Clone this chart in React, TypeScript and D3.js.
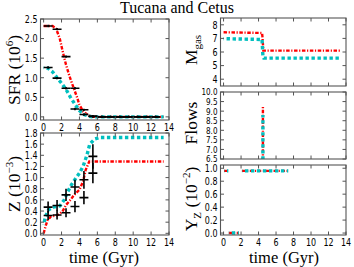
import * as d3 from 'd3';

// model curves (time in Gyr)
const sfrTimeRed = [0, 1.0, 1.4, 1.8, 2.1, 2.5, 2.9, 3.3, 3.7, 4.0, 4.4, 5.0, 5.5, 13.4];
const sfrRed = [2.32, 2.32, 2.25, 2.0, 1.7, 1.33, 1.03, 0.77, 0.52, 0.31, 0.14, 0.04, 0, 0];
const sfrTimeCyan = [0, 0.5, 1.0, 1.5, 2.0, 2.5, 3.0, 3.5, 4.0, 4.5, 5.0, 5.5, 13.4];
const sfrCyan = [1.26, 1.24, 1.15, 1.0, 0.86, 0.7, 0.5, 0.32, 0.16, 0.06, 0.02, 0, 0];

const sfrBins = [0.5, 1.5, 2.5, 3.5, 4.5, 5.5, 6.5, 7.5, 8.5, 9.5, 10.5, 11.5, 12.5];
const sfrObsA = [2.32, 2.24, 1.54, 0.73, 0.18, 0.02, 0, 0, 0, 0, 0, 0, 0];
const sfrObsB = [1.26, 0.99, 0.73, 0.2, 0.06, 0.01, 0, 0, 0, 0, 0, 0, 0];

const zTimeRed = [0, 0.2, 0.45, 0.8, 1.6, 2.1, 2.5, 3.0, 3.4, 4.0, 4.4, 4.7, 5.1, 5.5, 13.4];
const zRed = [0, 0.12, 0.24, 0.3, 0.33, 0.39, 0.51, 0.6, 0.69, 0.78, 0.93, 1.14, 1.29, 1.29, 1.29];
const zTimeCyan = [0, 0.2, 0.55, 1.0, 1.8, 2.3, 2.7, 3.1, 3.6, 4.0, 4.4, 4.85, 5.15, 5.7, 6.3, 13.4];
const zCyan = [0.15, 0.3, 0.42, 0.47, 0.49, 0.6, 0.75, 0.87, 0.99, 1.08, 1.2, 1.41, 1.6, 1.69, 1.72, 1.72];

const zBins = [0.5, 1.5, 2.5, 3.5, 4.5, 5.5];
const zObsHigh = [0.47, 0.5, 0.69, 0.83, 0.96, 1.38];
const zErrHigh = [0.1, 0.1, 0.11, 0.13, 0.16, 0.22];
const zObsLow = [0.32, 0.33, 0.37, 0.48, 0.64, 1.08];
const zErrLow = [0.08, 0.08, 0.08, 0.1, 0.12, 0.18];

const gasTimeRed = [0, 4.4, 4.45, 4.5, 4.55, 13.4];
const gasRed = [7.45, 7.4, 7.1, 6.6, 6.1, 6.1];
const gasTimeCyan = [0, 4.4, 4.45, 4.5, 4.6, 13.4];
const gasCyan = [6.98, 6.92, 6.3, 5.7, 5.55, 5.55];

const flowTime = [4.5, 4.5];
const flowRed = [6.0, 9.3];
const flowCyan = [6.0, 8.8];

const yzTime = [0.05, 0.55, NaN, 0.6, 1.75, NaN, 2.1, 7.4];
const yzRed = [0.96, 0.96, NaN, 0, 0, NaN, 0.96, 0.96];
const yzCyan = [0.96, 0.96, NaN, 0, 0, NaN, 0.96, 0.96];

const timeTicks = [0, 2, 4, 6, 8, 10, 12, 14];
const sfrTicks = [0, 0.5, 1.0, 1.5, 2.0, 2.5];
const zTicks = [0, 0.2, 0.4, 0.6, 0.8, 1.0, 1.2, 1.4, 1.6, 1.8];
const gasTicks = [4, 5, 6, 7, 8];
const flowTicks = [6.5, 7.0, 7.5, 8.0, 8.5, 9.0, 9.5, 10.0];
const yzTicks = [0, 0.2, 0.4, 0.6, 0.8, 1.0];

const RED = '#ff0000';
const CYAN = '#00bfbf';
const FRAME = '#555';
const SERIF = '"Liberation Serif", "DejaVu Serif", serif';
const SANS = '"DejaVu Sans", sans-serif';

type Scales = { x: d3.ScaleLinear<number, number>; y: d3.ScaleLinear<number, number> };

function path(s: Scales, xs: number[], ys: number[]) {
  const line = d3.line<number>()
    .defined(i => !isNaN(xs[i]) && !isNaN(ys[i]))
    .x(i => s.x(xs[i]))
    .y(i => s.y(ys[i]));
  return line(d3.range(xs.length)) || '';
}

function RedLine({ s, xs, ys }: { s: Scales; xs: number[]; ys: number[] }) {
  return <path d={path(s, xs, ys)} fill="none" stroke={RED} strokeWidth={2.4} strokeDasharray="3.5 1.6 1.2 1.6" />;
}
function CyanLine({ s, xs, ys }: { s: Scales; xs: number[]; ys: number[] }) {
  return <path d={path(s, xs, ys)} fill="none" stroke={CYAN} strokeWidth={3.4} strokeDasharray="3.4 2.6" strokeDashoffset={3} />;
}

function ErrBars({ s, xs, ys, yerr }: { s: Scales; xs: number[]; ys: number[]; yerr: number[] | number }) {
  return (
    <g stroke="#000" strokeWidth={1.6}>
      {xs.map((xv, i) => {
        const e = typeof yerr === 'number' ? yerr : yerr[i];
        return (
          <g key={i}>
            <line x1={s.x(xv - 0.5)} x2={s.x(xv + 0.5)} y1={s.y(ys[i])} y2={s.y(ys[i])} />
            <line x1={s.x(xv)} x2={s.x(xv)} y1={s.y(ys[i] - e)} y2={s.y(ys[i] + e)} />
          </g>
        );
      })}
    </g>
  );
}

type PanelProps = {
  id: string;
  left: number; right: number; top: number; bottom: number;
  yDomain: [number, number];
  yTicks: number[];
  yFmt: (v: number) => string;
  showX: boolean;
  tickFont?: number;
  draw: (s: Scales) => any;
};

function Panel({ id, left, right, top, bottom, yDomain, yTicks, yFmt, showX, tickFont = 10.5, draw }: PanelProps) {
  const x = d3.scaleLinear().domain([-0.35, 14]).range([left, right]);
  const y = d3.scaleLinear().domain(yDomain).range([bottom, top]);
  const s = { x, y };
  const tl = 3.5;
  return (
    <g>
      <clipPath id={id}><rect x={left} y={top} width={right - left} height={bottom - top} /></clipPath>
      <g clipPath={`url(#${id})`}>{draw(s)}</g>
      <g stroke={FRAME} strokeWidth={1}>
        {timeTicks.map(t => (
          <g key={t}>
            <line x1={x(t)} x2={x(t)} y1={bottom} y2={bottom - tl} />
            <line x1={x(t)} x2={x(t)} y1={top} y2={top + tl} />
          </g>
        ))}
        {yTicks.map(t => (
          <g key={t}>
            <line x1={left} x2={left + tl} y1={y(t)} y2={y(t)} />
            <line x1={right} x2={right - tl} y1={y(t)} y2={y(t)} />
          </g>
        ))}
      </g>
      <rect x={left} y={top} width={right - left} height={bottom - top} fill="none" stroke={FRAME} strokeWidth={1.1} />
      <g fontFamily={SANS} fontSize={tickFont} fill="#000">
        {yTicks.map(t => (
          <text key={t} transform={`translate(${left - 3},${y(t) + tickFont * 0.36}) scale(0.76,1)`} textAnchor="end">{yFmt(t)}</text>
        ))}
        {showX && timeTicks.map(t => (
          <text key={t} transform={`translate(${x(t)},${bottom + 10.5}) scale(0.76,1)`} textAnchor="middle">{t}</text>
        ))}
      </g>
    </g>
  );
}

const f1 = (v: number) => d3.format('.1f')(v);
const f0 = (v: number) => d3.format('d')(v);

export default function App() {
  const L = [40.5, 169];
  const R = [220.5, 346];
  return (
    <svg width={354} height={267} style={{ position: 'absolute', left: 0, top: 0, background: '#fff' }}>
      <text x={177} y={13} textAnchor="middle" fontFamily={SERIF} fontSize={16}>Tucana and Cetus</text>

      <Panel id="c1" left={L[0]} right={L[1]} top={19} bottom={120} yDomain={[-0.08, 2.5]} yTicks={sfrTicks} yFmt={f1} showX
        draw={s => (
          <g>
            <RedLine s={s} xs={sfrTimeRed} ys={sfrRed} />
            <CyanLine s={s} xs={sfrTimeCyan} ys={sfrCyan} />
            <ErrBars s={s} xs={sfrBins} ys={sfrObsA} yerr={0.03} />
            <ErrBars s={s} xs={sfrBins} ys={sfrObsB} yerr={0.03} />
          </g>
        )} />

      <Panel id="c2" left={L[0]} right={L[1]} top={133} bottom={235} yDomain={[-0.03, 1.8]} yTicks={zTicks} yFmt={f1} showX
        draw={s => (
          <g>
            <RedLine s={s} xs={zTimeRed} ys={zRed} />
            <CyanLine s={s} xs={zTimeCyan} ys={zCyan} />
            <ErrBars s={s} xs={zBins} ys={zObsHigh} yerr={zErrHigh} />
            <ErrBars s={s} xs={zBins} ys={zObsLow} yerr={zErrLow} />
          </g>
        )} />

      <Panel id="c3" left={R[0]} right={R[1]} top={18} bottom={86} yDomain={[3.5, 8.5]} yTicks={gasTicks} yFmt={f0} showX={false}
        draw={s => (
          <g>
            <RedLine s={s} xs={gasTimeRed} ys={gasRed} />
            <CyanLine s={s} xs={gasTimeCyan} ys={gasCyan} />
          </g>
        )} />

      <Panel id="c4" left={R[0]} right={R[1]} top={92} bottom={159} yDomain={[6.5, 10]} yTicks={flowTicks} yFmt={f1} showX={false} tickFont={9.5}
        draw={s => (
          <g>
            <RedLine s={s} xs={flowTime} ys={flowRed} />
            <CyanLine s={s} xs={flowTime} ys={flowCyan} />
          </g>
        )} />

      <Panel id="c5" left={R[0]} right={R[1]} top={165} bottom={235} yDomain={[-0.03, 1.05]} yTicks={yzTicks} yFmt={f1} showX
        draw={s => (
          <g>
            <RedLine s={s} xs={yzTime} ys={yzRed} />
            <CyanLine s={s} xs={yzTime} ys={yzCyan} />
          </g>
        )} />

      <g fontFamily={SERIF} fontSize={17.5}>
        <text transform="translate(20,70) rotate(-90)" textAnchor="middle">SFR (10<tspan fontSize={11} dy={-7}>6</tspan><tspan dy={7}>)</tspan></text>
        <text transform="translate(20,184) rotate(-90)" textAnchor="middle">Z (10<tspan fontSize={11} dy={-7}>−3</tspan><tspan dy={7}>)</tspan></text>
        <text transform="translate(197,50) rotate(-90)" textAnchor="middle">M<tspan fontSize={11} dy={4}>gas</tspan></text>
        <text transform="translate(197,123) rotate(-90)" textAnchor="middle">Flows</text>
        <text transform="translate(197,199) rotate(-90)" textAnchor="middle">Y<tspan fontSize={11} dy={4}>Z</tspan><tspan dy={-4}> (10</tspan><tspan fontSize={11} dy={-7}>−2</tspan><tspan dy={7}>)</tspan></text>
      </g>
      <g fontFamily={SERIF} fontSize={16.5}>
        <text x={104} y={263} textAnchor="middle">time (Gyr)</text>
        <text x={284} y={263} textAnchor="middle">time (Gyr)</text>
      </g>
    </svg>
  );
}
